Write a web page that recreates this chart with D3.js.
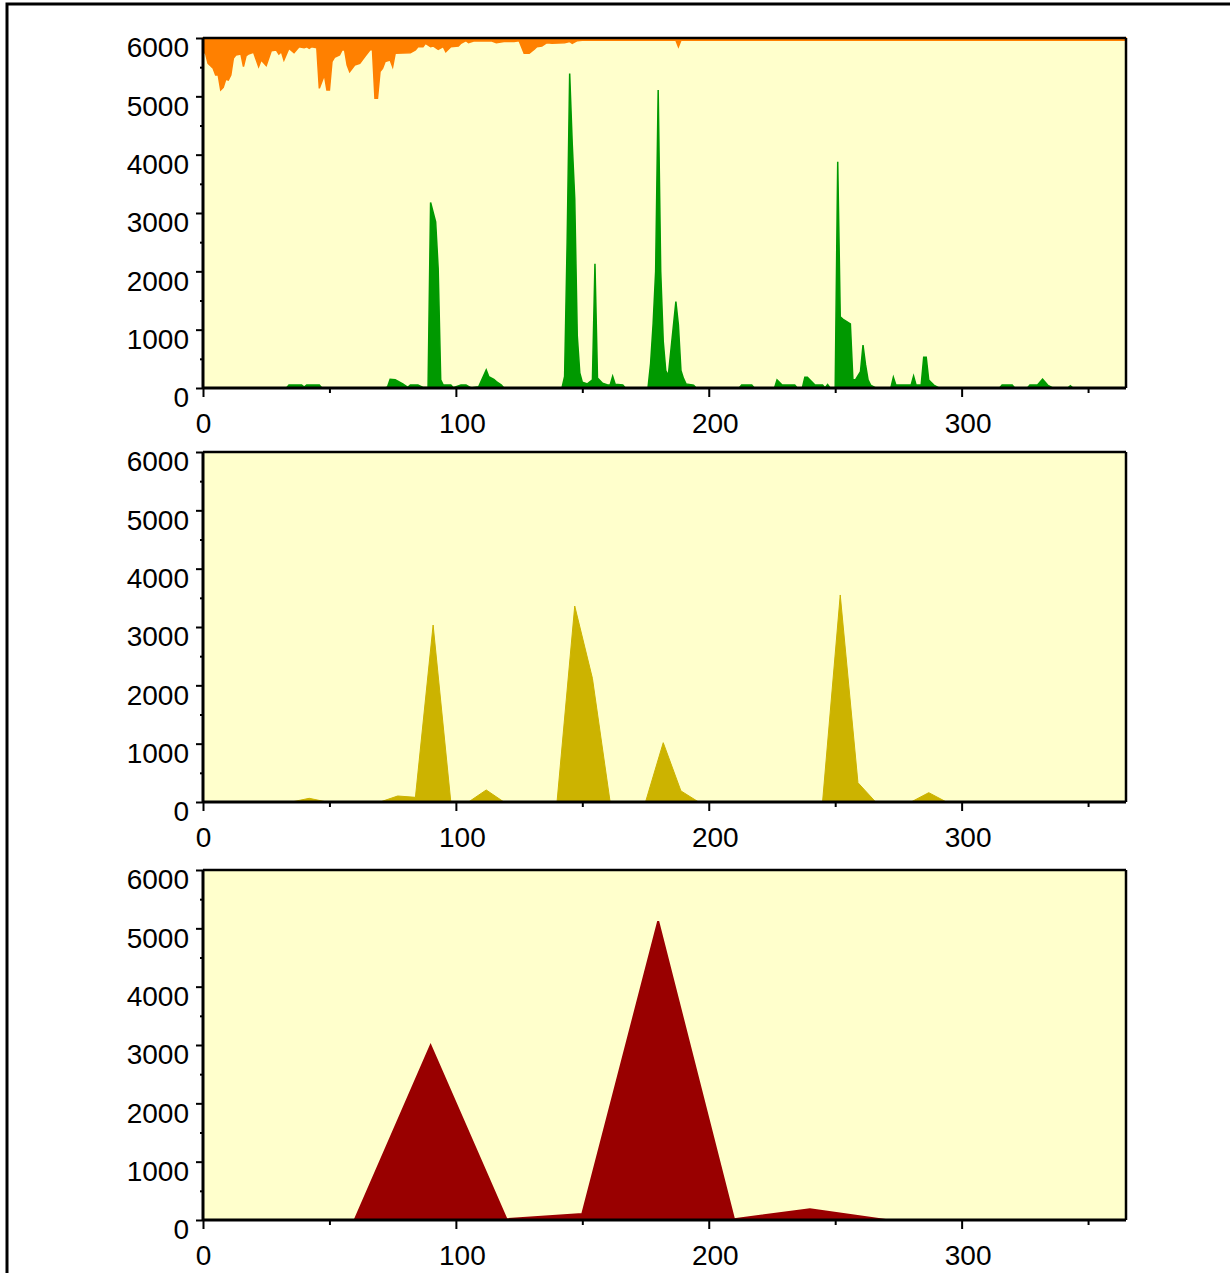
<!DOCTYPE html>
<html>
<head>
<meta charset="utf-8">
<script src="https://cdn.jsdelivr.net/npm/d3@7"></script>
<style>
  html, body { margin: 0; padding: 0; background: #ffffff; }
  svg { display: block; }
  text { font-family: "Liberation Sans", Arial, sans-serif; }
</style>
</head>
<body>
<svg id="chart" width="1230" height="1273"></svg>
<script>
// ---------------- data ----------------
// Top panel, green: daily series as [day, value] vertices
const dailyGreen = [
  [0,0],[33,0],[34,50],[39,50],[40,15],[41,50],[46,50],[47,0],
  [72,0],[73,20],[74,150],[76,140],[79,70],[81,10],[82,50],[85,50],[87,10],[89,10],
  [90,3180],[92,2850],[93,2050],[94,140],[95,50],[98,50],[99,5],[102,50],[104,50],[106,0],
  [109,20],[112,310],[113,195],[115,150],[116,110],[118,50],[119,0],
  [141,0],[142,10],[143,200],[144,2500],[145,5390],[146,4200],[147,3250],[148,900],[149,260],
  [150,100],[152,70],[154,140],[155,2130],[156,170],[158,80],[160,50],[161,50],[162,200],
  [163,65],[166,50],[167,0],
  [175,0],[176,10],[177,420],[178,1100],[179,2000],[180,5110],[181,2000],[182,800],[183,300],
  [184,214],[187,1480],[188,1080],[189,300],[190,165],[191,70],[194,50],[195,0],
  [212,0],[213,50],[217,50],[218,0],[226,0],[227,140],[229,50],[234,50],[235,0],
  [237,0],[238,185],[239,185],[242,50],[245,50],[246,0],[247,60],[248,0],[250,0],
  [251,3880],[252,1220],[253,1180],[256,1100],[257,140],[258,140],[260,280],
  [261,735],[262,400],[263,140],[264,50],[266,0],
  [272,0],[273,185],[274,50],[280,50],[281,205],[282,50],[284,50],[285,526],[286,526],
  [287,137],[289,50],[291,0],
  [315,0],[316,50],[320,50],[321,0],[326,0],[327,50],[330,50],[332,150],[334,50],[336,0],
  [342,0],[343,40],[344,0],[365,0]
];

// Top panel, orange: daily series hanging from the top, as [day, value] vertices
const dailyOrange = [
  [0,5760],[1,5737],[2,5566],[4,5480],[5,5366],[6,5366],[7,5109],[8,5155],[9,5292],[10,5280],
  [11,5366],[12,5652],[13,5709],[15,5726],[16,5509],[17,5692],[18,5726],[20,5754],[22,5509],
  [23,5623],[25,5526],[27,5783],[29,5794],[30,5726],[31,5766],[32,5623],[34,5823],[36,5749],
  [38,5851],[40,5834],[41,5851],[42,5823],[43,5851],[45,5834],[46,5137],[48,5366],[49,5109],
  [50,5109],[51,5595],[52,5669],[54,5709],[55,5794],[56,5794],[57,5537],[58,5423],[60,5537],
  [62,5566],[64,5680],[66,5794],[67,5806],[68,4966],[69,4966],[70,5423],[71,5480],[72,5595],
  [74,5623],[75,5509],[76,5737],[82,5749],[84,5794],[85,5851],[87,5851],[88,5909],[90,5851],
  [91,5863],[93,5806],[95,5851],[96,5766],[98,5851],[101,5863],[102,5909],[104,5954],
  [105,5920],[107,5950],[114,5954],[116,5920],[119,5940],[123,5940],[125,5954],[127,5737],
  [129,5737],[131,5806],[132,5851],[134,5863],[136,5920],[138,5909],[143,5920],[145,5940],
  [146,5909],[148,5954],[150,5960],[187,5960],[188,5851],[189,5960],[365,5960]
];

// Middle panel: weekly values (days 0, 7, 14, ... 364)
const weekDays = d3.range(0, 365, 7);
const weeklyValues = [
  0,0,0,0,0,0,63,0,0,0,
  0,103,80,3034,0,0,206,0,0,0,
  0,3360,2120,0,0,0,1017,190,0,0,
  0,0,0,0,0,0,3549,331,0,0,
  0,160,0,0,0,0,0,0,0,0,
  0,0,0
];

// Bottom panel: monthly values (days 0, 30, ... 360)
const monthDays = [0,30,60,90,120,150,180,210,240,270,300,330,360];
const monthlyValues = [0,0,0,2990,15,105,5120,15,185,0,0,0,0];

// Axis ticks
const xMajorTicks = [0,100,200,300];
const xMinorTicks = [50,150,250,350];
const yMajorTicks = [0,1000,2000,3000,4000,5000,6000];
const yMinorTicks = [500,1500,2500,3500,4500,5500];

// ---------------- drawing ----------------
const svg = d3.select("#chart");
const FONT = "'Liberation Sans', Arial, sans-serif";
const FS = 28;

// outer frame
svg.append("rect")
  .attr("x", 7).attr("y", 4).attr("width", 1400).attr("height", 1400)
  .attr("fill", "none").attr("stroke", "#000").attr("stroke-width", 3);

const x = d3.scaleLinear().domain([0, 365]).range([203, 1126]);

const panels = [
  { top: 38,  bottom: 388 },
  { top: 452, bottom: 802 },
  { top: 870, bottom: 1220 }
];

const BG = "#FFFFCC";

function drawPanel(p, drawSeries) {
  const y = d3.scaleLinear().domain([0, 6000]).range([p.bottom, p.top]);
  const g = svg.append("g");
  g.append("rect")
    .attr("x", x(0)).attr("y", p.top)
    .attr("width", x(365) - x(0)).attr("height", p.bottom - p.top)
    .attr("fill", BG);

  drawSeries(g, y);

  // top & right border
  g.append("line").attr("x1", x(0)).attr("x2", x(365)).attr("y1", p.top).attr("y2", p.top)
    .attr("stroke", "#000").attr("stroke-width", 2.5);
  g.append("line").attr("x1", x(365)).attr("x2", x(365)).attr("y1", p.top).attr("y2", p.bottom)
    .attr("stroke", "#000").attr("stroke-width", 2.5);

  // x axis minor
  g.append("g").attr("transform", `translate(0,${p.bottom})`)
    .call(d3.axisBottom(x).tickValues(xMinorTicks).tickSize(5).tickSizeOuter(0).tickFormat(""))
    .call(a => a.select(".domain").remove())
    .call(a => a.selectAll("line").attr("stroke-width", 2));
  // x axis major
  const xa = g.append("g").attr("transform", `translate(0,${p.bottom})`)
    .call(d3.axisBottom(x).tickValues(xMajorTicks).tickSize(9).tickSizeOuter(0).tickFormat(d3.format("d")));
  xa.select(".domain").attr("stroke-width", 3).attr("d", `M${x(0)},0H${x(365)}`);
  xa.selectAll("line").attr("stroke-width", 2);
  xa.selectAll("text")
    .attr("font-size", FS).attr("fill", "#000").attr("font-family", FONT)
    .attr("y", 35).attr("dy", "0.35em")
    .attr("x", d => d === 0 ? 0 : 6);

  // y axis minor
  g.append("g").attr("transform", `translate(${x(0)},0)`)
    .call(d3.axisLeft(y).tickValues(yMinorTicks).tickSize(3).tickSizeOuter(0).tickFormat(""))
    .call(a => a.select(".domain").remove())
    .call(a => a.selectAll("line").attr("stroke-width", 2));
  // y axis major
  const ya = g.append("g").attr("transform", `translate(${x(0)},0)`)
    .call(d3.axisLeft(y).tickValues(yMajorTicks).tickSize(7).tickSizeOuter(0).tickFormat(d3.format("d")));
  ya.select(".domain").attr("stroke-width", 3).attr("d", `M0,${p.top}V${p.bottom}`);
  ya.selectAll("line").attr("stroke-width", 2);
  ya.selectAll("text")
    .attr("font-size", FS).attr("fill", "#000").attr("font-family", FONT)
    .attr("x", -14).attr("y", 9).attr("dy", "0.35em");
}

// Panel 1: daily
drawPanel(panels[0], (g, y) => {
  const orangeArea = d3.area().x(d => x(d[0])).y0(y(6000)).y1(d => y(d[1]));
  g.append("path").datum(dailyOrange).attr("d", orangeArea)
    .attr("fill", "#FF8000").attr("stroke", "#FF8000").attr("stroke-width", 1.5);
  const greenArea = d3.area().x(d => x(d[0])).y0(y(0)).y1(d => y(d[1]));
  g.append("path").datum(dailyGreen).attr("d", greenArea)
    .attr("fill", "#009900").attr("stroke", "#009900").attr("stroke-width", 1.5);
});

// Panel 2: weekly
drawPanel(panels[1], (g, y) => {
  const area = d3.area().x((d, i) => x(weekDays[i])).y0(y(0)).y1(d => y(d));
  g.append("path").datum(weeklyValues).attr("d", area)
    .attr("fill", "#CCB300").attr("stroke", "#CCB300").attr("stroke-width", 1);
});

// Panel 3: monthly
drawPanel(panels[2], (g, y) => {
  const area = d3.area().x((d, i) => x(monthDays[i])).y0(y(0)).y1(d => y(d));
  g.append("path").datum(monthlyValues).attr("d", area)
    .attr("fill", "#990000").attr("stroke", "#990000").attr("stroke-width", 2);
});
</script>
</body>
</html>
